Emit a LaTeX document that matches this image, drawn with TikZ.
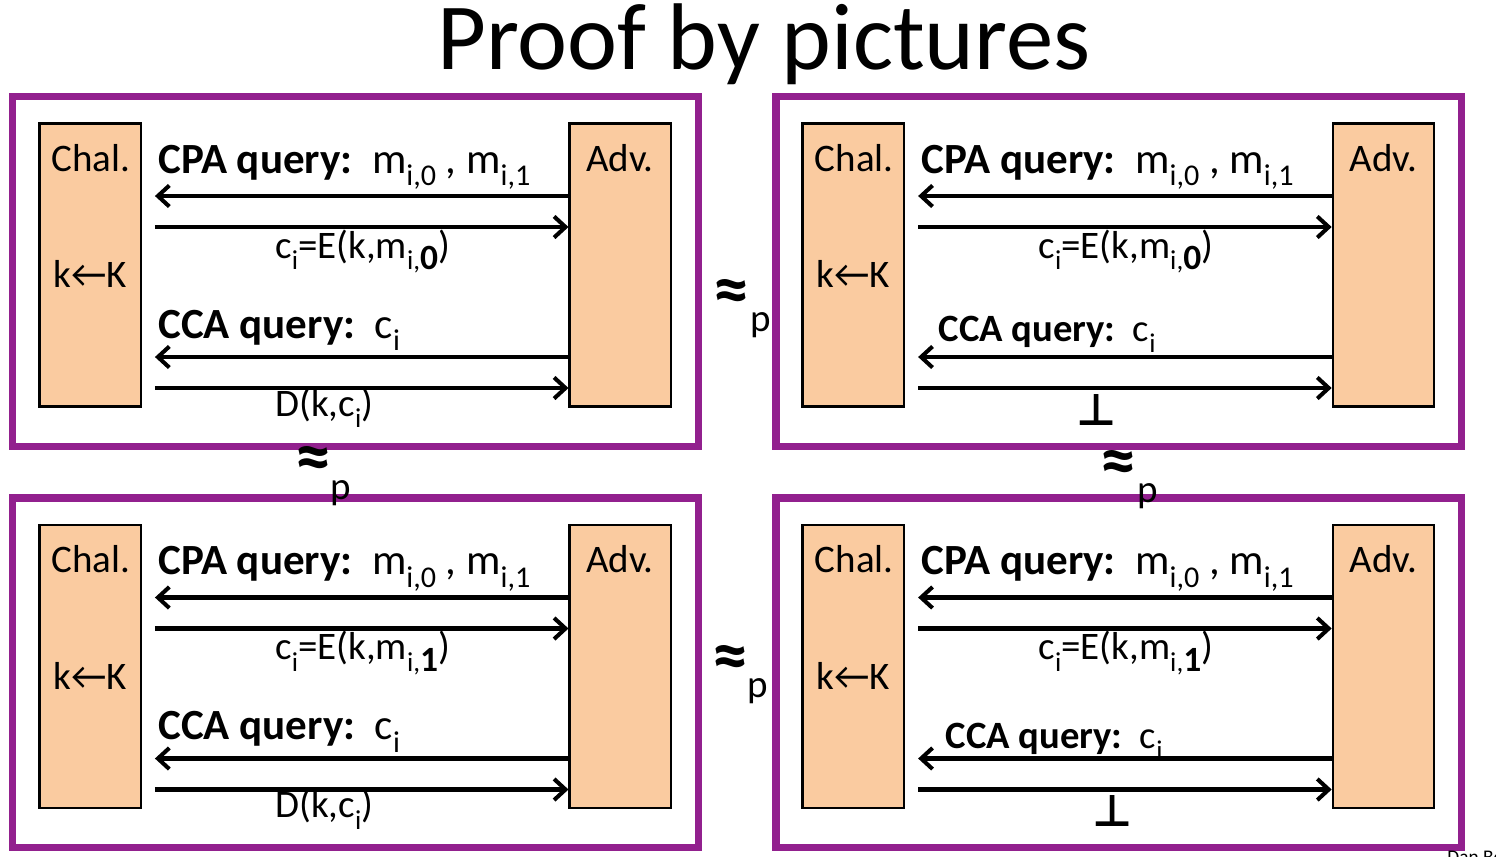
\documentclass[tikz,border=0pt]{standalone}
\usepackage{fontspec}
\setmainfont{Carlito}
\newfontfamily\symfont{DejaVu Sans}
\usetikzlibrary{arrows.meta}
\definecolor{framepurple}{RGB}{146,32,142}
\definecolor{peach}{RGB}{250,203,160}
\newcommand\idx[1]{\raisebox{-0.3em}{\scalebox{0.7}{#1}}}
\tikzset{
  gameframe/.style={draw=framepurple, line width=4.1pt},
  party/.style={draw, fill=peach, line width=1.3pt, minimum width=57.7pt, minimum height=161pt, inner sep=0pt},
  txt/.style={inner sep=0pt, font=\fontsize{22.2}{26}\selectfont},
  query/.style={inner sep=0pt, font=\fontsize{24.5}{28}\selectfont},
  smalltxt/.style={inner sep=0pt, font=\fontsize{22}{26}\selectfont},
  approx/.style={inner sep=0pt, font=\bfseries\fontsize{41}{41}\selectfont},
  bottom/.style={inner sep=0pt, font=\symfont\bfseries\fontsize{25}{25}\selectfont},
  msg/.style={line width=2.3pt, -{Straight Barb[length=6.5pt, width=12pt]}},
  tochal/.style={msg, shorten >=7.4pt},
  toadv/.style={msg, shorten <=7.4pt},
}
% one game: prefix, shift, bit, CCA part
\newcommand\game[4]{%
  \begin{scope}[shift={(#2)}]
    \draw[gameframe] (12.8,96.5) rectangle (698.3,446.3);
    \node[party] (#1chal) at (90.1,265) {};
    \node[party] (#1adv) at (620.3,265) {};
    \node[txt] (#1challbl) at (91,158) {Chal.};
    \node[txt] (#1advlbl) at (620,158) {Adv.};
    \node[txt] (#1key) at (90,274) {k←K};
    \node[query, anchor=base west] (#1cpa) at (158,173) {\textbf{CPA query:}\ \ m\idx{i,0} , m\idx{i,1}};
    \draw[tochal] (#1adv.west |- 0,196) -- (#1chal.east |- 0,196);
    \draw[toadv] (#1chal.east |- 0,227) -- (#1adv.west |- 0,227);
    \node[txt, anchor=base west] (#1enc) at (275,258) {c\idx{i}=E(k,m\idx{i,\textbf{\scalebox{1.3}{#3}}})};
    \draw[tochal] (#1adv.west |- 0,357) -- (#1chal.east |- 0,357);
    \draw[toadv] (#1chal.east |- 0,388) -- (#1adv.west |- 0,388);
    #4
  \end{scope}}

\begin{document}
\begin{tikzpicture}[x=0.02cm, y=-0.02cm]
  \useasboundingbox (0,0) rectangle (1496,856);
  \node[anchor=base, inner sep=0pt, font=\fontsize{53.9}{60}\selectfont] (title) at (764,69) {Proof by pictures};

  \game{tl}{0,0}{0}{
    \node[query, anchor=base west] (tlcca) at (158,338) {\textbf{CCA query:}\ \ c\idx{i}};
    \node[txt, anchor=base west] (tldec) at (275,416) {D(k,c\idx{i})};}
  \game{tr}{763.2,0}{0}{
    \node[smalltxt, anchor=base west] (trcca) at (175,341) {\textbf{CCA query:}\ \ c\idx{i}};
    \node[bottom] (trbot) at (333.8,410) {⊥};}
  \game{bl}{0,401.5}{1}{
    \node[query, anchor=base west] (blcca) at (158,338) {\textbf{CCA query:}\ \ c\idx{i}};
    \node[txt, anchor=base west] (bldec) at (275,416) {D(k,c\idx{i})};}
  \game{br}{763.2,401.5}{1}{
    \node[smalltxt, anchor=base west] (brcca) at (182,346.5) {\textbf{CCA query:}\ \ c\idx{i}};
    \node[bottom] (brbot) at (349.8,409) {⊥};}

  % the four approx signs
  \node[approx] (apxtop) at (731,296) {≈};
  \node[txt, anchor=base] (ptop) at (761,331) {p};
  \node[approx] (apxbot) at (730,662) {≈};
  \node[txt, anchor=base] (pbot) at (758,697) {p};
  \node[approx] (apxleft) at (313,463) {≈};
  \node[txt, anchor=base] (pleft) at (341,499) {p};
  \node[approx] (apxright) at (1118,467) {≈};
  \node[txt, anchor=base] (pright) at (1148,502) {p};

  \node[anchor=north west, inner sep=0pt, font=\fontsize{11}{13}\selectfont] (credit) at (1447,850) {Dan Boneh};
\end{tikzpicture}
\end{document}
